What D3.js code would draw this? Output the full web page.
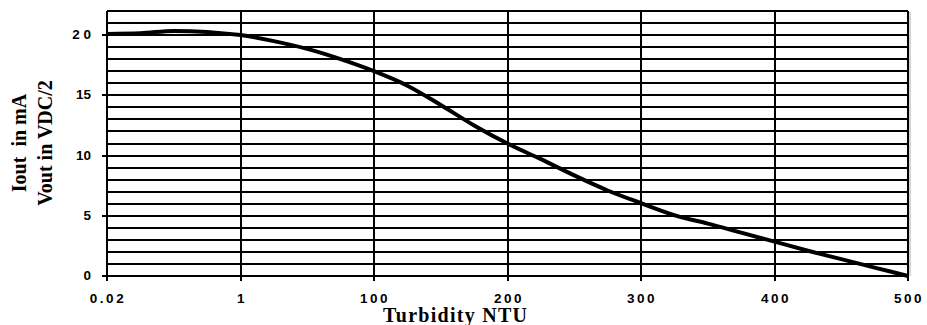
<!DOCTYPE html>
<html><head><meta charset="utf-8">
<script src="https://cdn.jsdelivr.net/npm/d3@7"></script>
<style>body{margin:0;background:#fff}svg{display:block}</style>
</head><body><svg id="c" width="927" height="325"></svg>
<script>
// Category tick labels (equally spaced)
const categories = ["0.02", "1", "100", "200", "300", "400", "500"];
// Curve sample positions (in category-index units) and values
const curvePos = [0, 0.25, 0.5, 1, 1.25, 1.5, 1.75, 2, 2.25, 2.5, 2.75, 3, 3.25, 3.5, 3.75, 4, 4.28, 4.5, 4.75, 5, 5.25, 5.5, 5.75, 6];
const curveVal = [20.1, 20.15, 20.35, 20.0, 19.5, 18.85, 18.0, 17.0, 15.8, 14.2, 12.5, 11.0, 9.7, 8.35, 7.1, 6.05, 4.95, 4.35, 3.6, 2.85, 2.1, 1.4, 0.7, 0.0];
const yTicks = [0, 5, 10, 15, 20];
const yTickLabels = ["0", "5", "10", "15", "2 0"];

const svg = d3.select("#c");
const m = {l: 107, r: 908, t: 11, b: 276};
const x = d3.scaleLinear().domain([0, categories.length - 1]).range([m.l, m.r]);
const y = d3.scaleLinear().domain([0, 22]).range([m.b, m.t]);
const R = v => Math.round(v);

const g = svg.append("g");
// horizontal grid every 1 unit
g.selectAll("line.h").data(d3.range(0, 23)).join("line")
  .attr("x1", m.l).attr("x2", m.r)
  .attr("y1", d => R(y(d))).attr("y2", d => R(y(d)))
  .attr("stroke", "#000").attr("stroke-width", 2);
// vertical grid
g.selectAll("line.v").data(categories.map((c, i) => i)).join("line")
  .attr("x1", d => R(x(d))).attr("x2", d => R(x(d)))
  .attr("y1", R(m.t)).attr("y2", m.b)
  .attr("stroke", "#000").attr("stroke-width", 2);
// border shadow on right
g.append("line").attr("x1", m.r + 2).attr("x2", m.r + 2).attr("y1", m.t + 1).attr("y2", m.b)
  .attr("stroke", "#aaa").attr("stroke-width", 1);

// y axis
const yAxis = d3.axisLeft(y).tickValues(yTicks).tickSize(5).tickPadding(12)
  .tickFormat((d, i) => yTickLabels[i]);
const ya = svg.append("g").attr("transform", `translate(${m.l},0)`).call(yAxis);
ya.select(".domain").remove();
ya.selectAll(".tick").attr("transform", d => `translate(0,${R(y(d))})`);
ya.selectAll(".tick line").attr("stroke-width", 2).attr("x2", -5).attr("x1", 4);
ya.selectAll(".tick text").attr("font-family", "Liberation Sans, Arial, sans-serif")
  .attr("font-weight", "bold").attr("font-size", 13.5).attr("fill", "#000").attr("x", -16);

// x axis
const xAxis = d3.axisBottom(x).tickValues(categories.map((c, i) => i)).tickSize(5).tickPadding(12)
  .tickFormat((d, i) => categories[i]);
const xa = svg.append("g").attr("transform", `translate(0,${m.b})`).call(xAxis);
xa.select(".domain").remove();
xa.selectAll(".tick").attr("transform", d => `translate(${R(x(d))},0)`);
xa.selectAll(".tick line").attr("stroke-width", 2).attr("y1", -4).attr("y2", 5);
xa.selectAll(".tick text").attr("font-family", "Liberation Sans, Arial, sans-serif")
  .attr("font-weight", "bold").attr("font-size", 13.5).attr("fill", "#000")
  .attr("letter-spacing", "2.5px").attr("dx", 1);

// curve
const pts = curvePos.map((p, i) => [p, curveVal[i]]);
svg.append("path").datum(pts)
  .attr("fill", "none").attr("stroke", "#000").attr("stroke-width", 4)
  .attr("stroke-linejoin", "round")
  .attr("d", d3.line().x(d => x(d[0])).y(d => y(d[1])).curve(d3.curveMonotoneX));

// axis titles
svg.append("text").attr("x", 383).attr("y", 322)
  .attr("font-family", "Liberation Serif, Times New Roman, serif").attr("font-weight", "bold")
  .attr("font-size", 20).attr("textLength", 144).attr("lengthAdjust", "spacing").text("Turbidity NTU");
const yt = svg.append("text").attr("transform", "translate(0,143) rotate(-90)")
  .attr("text-anchor", "middle").attr("font-family", "Liberation Serif, Times New Roman, serif")
  .attr("font-weight", "bold").attr("font-size", 20);
yt.append("tspan").attr("x", 0).attr("y", 26).attr("xml:space", "preserve").text("Iout  in mA");
yt.append("tspan").attr("x", 0).attr("y", 52).text("Vout in VDC/2");
</script></body></html>
